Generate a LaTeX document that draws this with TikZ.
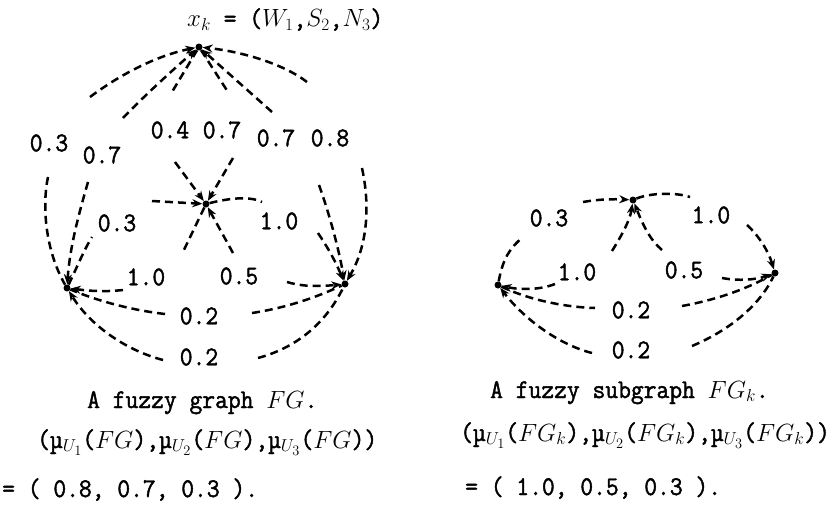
\documentclass[tikz,border=0pt]{standalone}
\usepackage{fontspec}
\usetikzlibrary{arrows.meta}
\newfontfamily\tw{Latin Modern Mono}[FakeStretch=0.92,FakeBold=1.6]
\DeclareMathSizes{27}{27}{19}{15}
\newcommand\labfont{\tw\fontsize{27}{32}\selectfont}
\tikzset{
 dot/.style={circle,fill=black,inner sep=0pt,minimum size=7pt},
 dline/.style={line width=2.5pt,dash pattern=on 8pt off 5pt,black},
 arr/.style={dline,-{Stealth[length=10pt,width=8pt]}},
 lab/.style={font=\labfont,inner sep=0pt},
 txt/.style={anchor=base west,inner sep=0pt,font=\labfont}
}
\begin{document}
\begin{tikzpicture}[x=1pt,y=-1pt]
\useasboundingbox (0,0) rectangle (839,506);
% ---------- left graph ----------
\node[dot] (T) at (199,47) {};
\node[dot] (C) at (206,204) {};
\node[dot] (L) at (67,288) {};
\node[dot] (R) at (345,284) {};
\coordinate (a1) at (90,97);
\coordinate (a2) at (48,177);
\coordinate (a3) at (123,118);
\coordinate (a4) at (88,182);
\coordinate (a5) at (172,92);
\coordinate (a6) at (175,162);
\coordinate (a7) at (228,92);
\coordinate (a8) at (233,158);
\coordinate (a9) at (272,112);
\coordinate (a10) at (319,185);
\coordinate (a11) at (307,82);
\coordinate (a12) at (362,168);
\coordinate (a13) at (92,237);
\coordinate (a14) at (152,201);
\coordinate (a15) at (182,254);
\coordinate (a16) at (123,290);
\coordinate (a17) at (262,202);
\coordinate (a18) at (318,233);
\coordinate (a19) at (233,253);
\coordinate (a20) at (287,282);
\coordinate (a21) at (165,314);
\coordinate (a22) at (252,313);
\coordinate (a23) at (163,360);
\coordinate (a24) at (258,358);
\draw[arr] (a1) .. controls (118,76) and (155,56) .. (T);
\draw[dline] (a2) .. controls (42,205) and (45,250) .. (L);
\draw[arr] (a3) .. controls (145,95) and (175,68) .. (T);
\draw[arr] (a4) .. controls (80,210) and (70,245) .. (L);
\draw[dline] (T) -- (a5);
\draw[arr] (a6) -- (C);
\draw[dline] (T) -- (a7);
\draw[arr] (a8) -- (C);
\draw[arr] (a9) -- (T);
\draw[arr] (a10) .. controls (328,210) and (338,245) .. (R);
\draw[arr] (a11) .. controls (285,65) and (245,52) .. (T);
\draw[arr] (a12) .. controls (370,205) and (368,245) .. (R);
\draw[dline] (L) .. controls (78,265) and (84,250) .. (a13);
\draw[arr] (a14) -- (C);
\draw[dline] (C) -- (a15);
\draw[arr] (a16) .. controls (105,292) and (90,291) .. (L);
\draw[dline] (C) .. controls (230,198) and (250,196) .. (a17);
\draw[arr] (a18) .. controls (326,245) and (334,258) .. (R);
\draw[arr] (a19) -- (C);
\draw[arr] (a20) .. controls (300,286) and (315,287) .. (R);
\draw[dline] (a21) .. controls (130,310) and (95,300) .. (L);
\draw[dline] (a22) .. controls (285,308) and (315,298) .. (R);
\draw[arr] (a23) .. controls (125,350) and (90,325) .. (L);
\draw[dline] (a24) .. controls (295,348) and (325,325) .. (R);
\node[lab] (l1) at (49,143) {0.3};
\node[lab] (l2) at (102,155) {0.7};
\node[lab] (l3) at (170,130) {0.4};
\node[lab] (l4) at (222,130) {0.7};
\node[lab] (l5) at (276,138) {0.7};
\node[lab] (l6) at (330,138) {0.8};
\node[lab] (l7) at (117,223) {0.3};
\node[lab] (l8) at (279,221) {1.0};
\node[lab] (l9) at (146,277) {1.0};
\node[lab] (l10) at (239,276) {0.5};
\node[lab] (l11) at (199,316) {0.2};
\node[lab] (l12) at (199,357) {0.2};
% ---------- right graph ----------
\node[dot] (T2) at (633,200) {};
\node[dot] (L2) at (498,285) {};
\node[dot] (R2) at (775,273) {};
\coordinate (b1) at (523,237);
\coordinate (b2) at (583,202);
\coordinate (b3) at (612,251);
\coordinate (b4) at (555,284);
\coordinate (b5) at (690,197);
\coordinate (b6) at (747,225);
\coordinate (b7) at (662,250);
\coordinate (b8) at (722,278);
\coordinate (b9) at (595,308);
\coordinate (b10) at (682,306);
\coordinate (b11) at (592,353);
\coordinate (b12) at (692,346);
\draw[dline] (L2) .. controls (503,258) and (510,248) .. (b1);
\draw[arr] (b2) .. controls (600,199) and (615,199) .. (T2);
\draw[arr] (b3) .. controls (622,235) and (630,220) .. (T2);
\draw[arr] (b4) .. controls (540,290) and (520,290) .. (L2);
\draw[dline] (T2) .. controls (650,193) and (675,192) .. (b5);
\draw[arr] (b6) .. controls (758,235) and (768,250) .. (R2);
\draw[arr] (b7) .. controls (650,240) and (643,225) .. (T2);
\draw[arr] (b8) .. controls (738,281) and (755,280) .. (R2);
\draw[dline] (L2) .. controls (525,298) and (560,307) .. (b9);
\draw[dline] (b10) .. controls (715,300) and (745,290) .. (R2);
\draw[arr] (b11) .. controls (560,345) and (525,320) .. (L2);
\draw[dline] (b12) .. controls (730,330) and (760,305) .. (R2);
\node[lab] (m1) at (549,218) {0.3};
\node[lab] (m2) at (577,272) {1.0};
\node[lab] (m3) at (711,215) {1.0};
\node[lab] (m4) at (684,270) {0.5};
\node[lab] (m5) at (631,310) {0.2};
\node[lab] (m6) at (631,350) {0.2};
% ---------- texts ----------
\node[txt] (xk) at (187,27) {$x_k$ = ($W_1$,$S_2$,$N_3$)};
\node[txt] (cap1) at (87,408) {A fuzzy graph $FG$.};
\node[txt] (mu1) at (37,448) {(µ$_{U_1}$($FG$),µ$_{U_2}$($FG$),µ$_{U_3}$($FG$))};
\node[txt] (val1) at (2,497) {= ( 0.8, 0.7, 0.3 ).};
\node[txt] (cap2) at (490,398) {A fuzzy subgraph $FG_k$.};
\node[txt] (mu2) at (460,441) {(µ$_{U_1}$($FG_k$),µ$_{U_2}$($FG_k$),µ$_{U_3}$($FG_k$))};
\node[txt] (val2) at (465,495) {= ( 1.0, 0.5, 0.3 ).};
\end{tikzpicture}
\end{document}
